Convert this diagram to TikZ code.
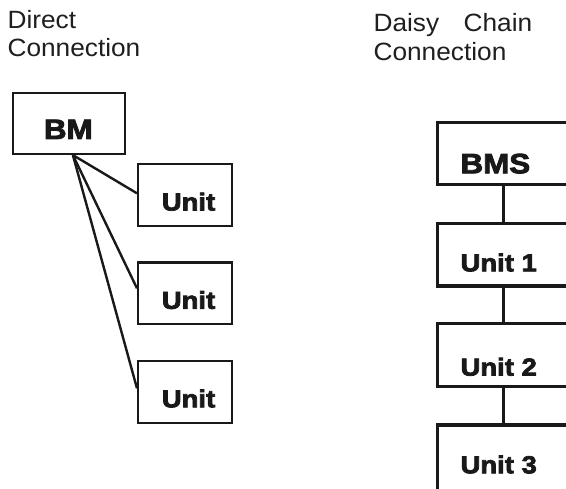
\documentclass[tikz,border=0pt]{standalone}
\usepackage{fontspec}
\setmainfont{Liberation Sans}
\newfontfamily\titlefont{Liberation Sans}[FakeStretch=1.05]
\newfontfamily\heavyfont{Liberation Sans Bold}[FakeBold=3,FakeStretch=1.12]
\usetikzlibrary{calc}
\begin{document}
\begin{tikzpicture}[x=0.75pt,y=-0.75pt,
  title/.style={inner sep=0pt, align=left, text=black!88,
    font={\titlefont\fontsize{18.75pt}{21.2pt}\selectfont}},
  bigtxt/.style={inner sep=0pt, text=black!90, font={\heavyfont\fontsize{21pt}{24pt}\selectfont}},
  smalltxt/.style={inner sep=0pt, text=black!90, font={\heavyfont\fontsize{18.4pt}{22pt}\selectfont}},
  lbox/.style={draw=black!90, line width=1.7pt, inner sep=0pt, fill=white},
  rbox/.style={draw=black!90, line width=2.6pt, inner sep=0pt, fill=white,
    minimum width=98.4pt},
  fanline/.style={draw=black!90, line width=1.8pt},
  chain/.style={draw=black!90, line width=2.6pt}]
\path[use as bounding box, clip] (0,0) rectangle (566,488);

% titles
\node[title, anchor=north west] (tleft) at (7.3,10.3) {Direct\\Connection};
\node[title, anchor=north west] (tright) at (373.3,13.5)
  {\makebox[119pt][s]{Daisy Chain}\\Connection};

% direct connection
\node[lbox, minimum width=84.1pt, minimum height=45.8pt] (bm) at (68.9,123.4) {};
\node[lbox, minimum width=70.35pt, minimum height=46.3pt] (u1) at (185,195) {};
\node[lbox, minimum width=70.35pt, minimum height=46.3pt] (u2) at (185,293.3) {};
\node[lbox, minimum width=70.35pt, minimum height=46.3pt] (u3) at (185,391.8) {};
\node[bigtxt, anchor=base] (bmt) at ($(bm.center)+(-0.6,15.6)$) {BM};
\node[smalltxt, anchor=base] (u1t) at ($(u1.center)+(3.5,15.5)$) {Unit};
\node[smalltxt, anchor=base] (u2t) at ($(u2.center)+(3.5,15.5)$) {Unit};
\node[smalltxt, anchor=base] (u3t) at ($(u3.center)+(3.5,15.5)$) {Unit};
\coordinate (fan) at ($(bm.south)+(4,0)$);
\draw[fanline] (fan) -- ($(u1.west)+(0,-1.7)$);
\draw[fanline] (fan) -- ($(u2.west)+(0,-5)$);
\draw[fanline] (fan) -- ($(u3.west)+(0,-3.5)$);

% daisy chain
\node[rbox, minimum height=46.35pt] (bms) at (503.3,153.4) {};
\node[rbox, minimum height=47pt] (r1) at (503.3,254.7) {};
\node[rbox, minimum height=47.5pt] (r2) at (503.3,355) {};
\node[rbox, minimum height=52.5pt] (r3) at (503.3,460) {};
\draw[chain] (bms.south) -- (r1.north);
\draw[chain] (r1.south) -- (r2.north);
\draw[chain] (r2.south) -- (r3.north);
\node[bigtxt, anchor=base west] (bmst) at ($(bms.north west)+(24.3,52.5)$) {BMS};
\node[smalltxt, anchor=base west] (r1t) at ($(r1.north west)+(24.3,49.7)$) {Unit 1};
\node[smalltxt, anchor=base west] (r2t) at ($(r2.north west)+(24.3,54)$) {Unit 2};
\node[smalltxt, anchor=base west] (r3t) at ($(r3.north west)+(24.3,50)$) {Unit 3};
\end{tikzpicture}
\end{document}
